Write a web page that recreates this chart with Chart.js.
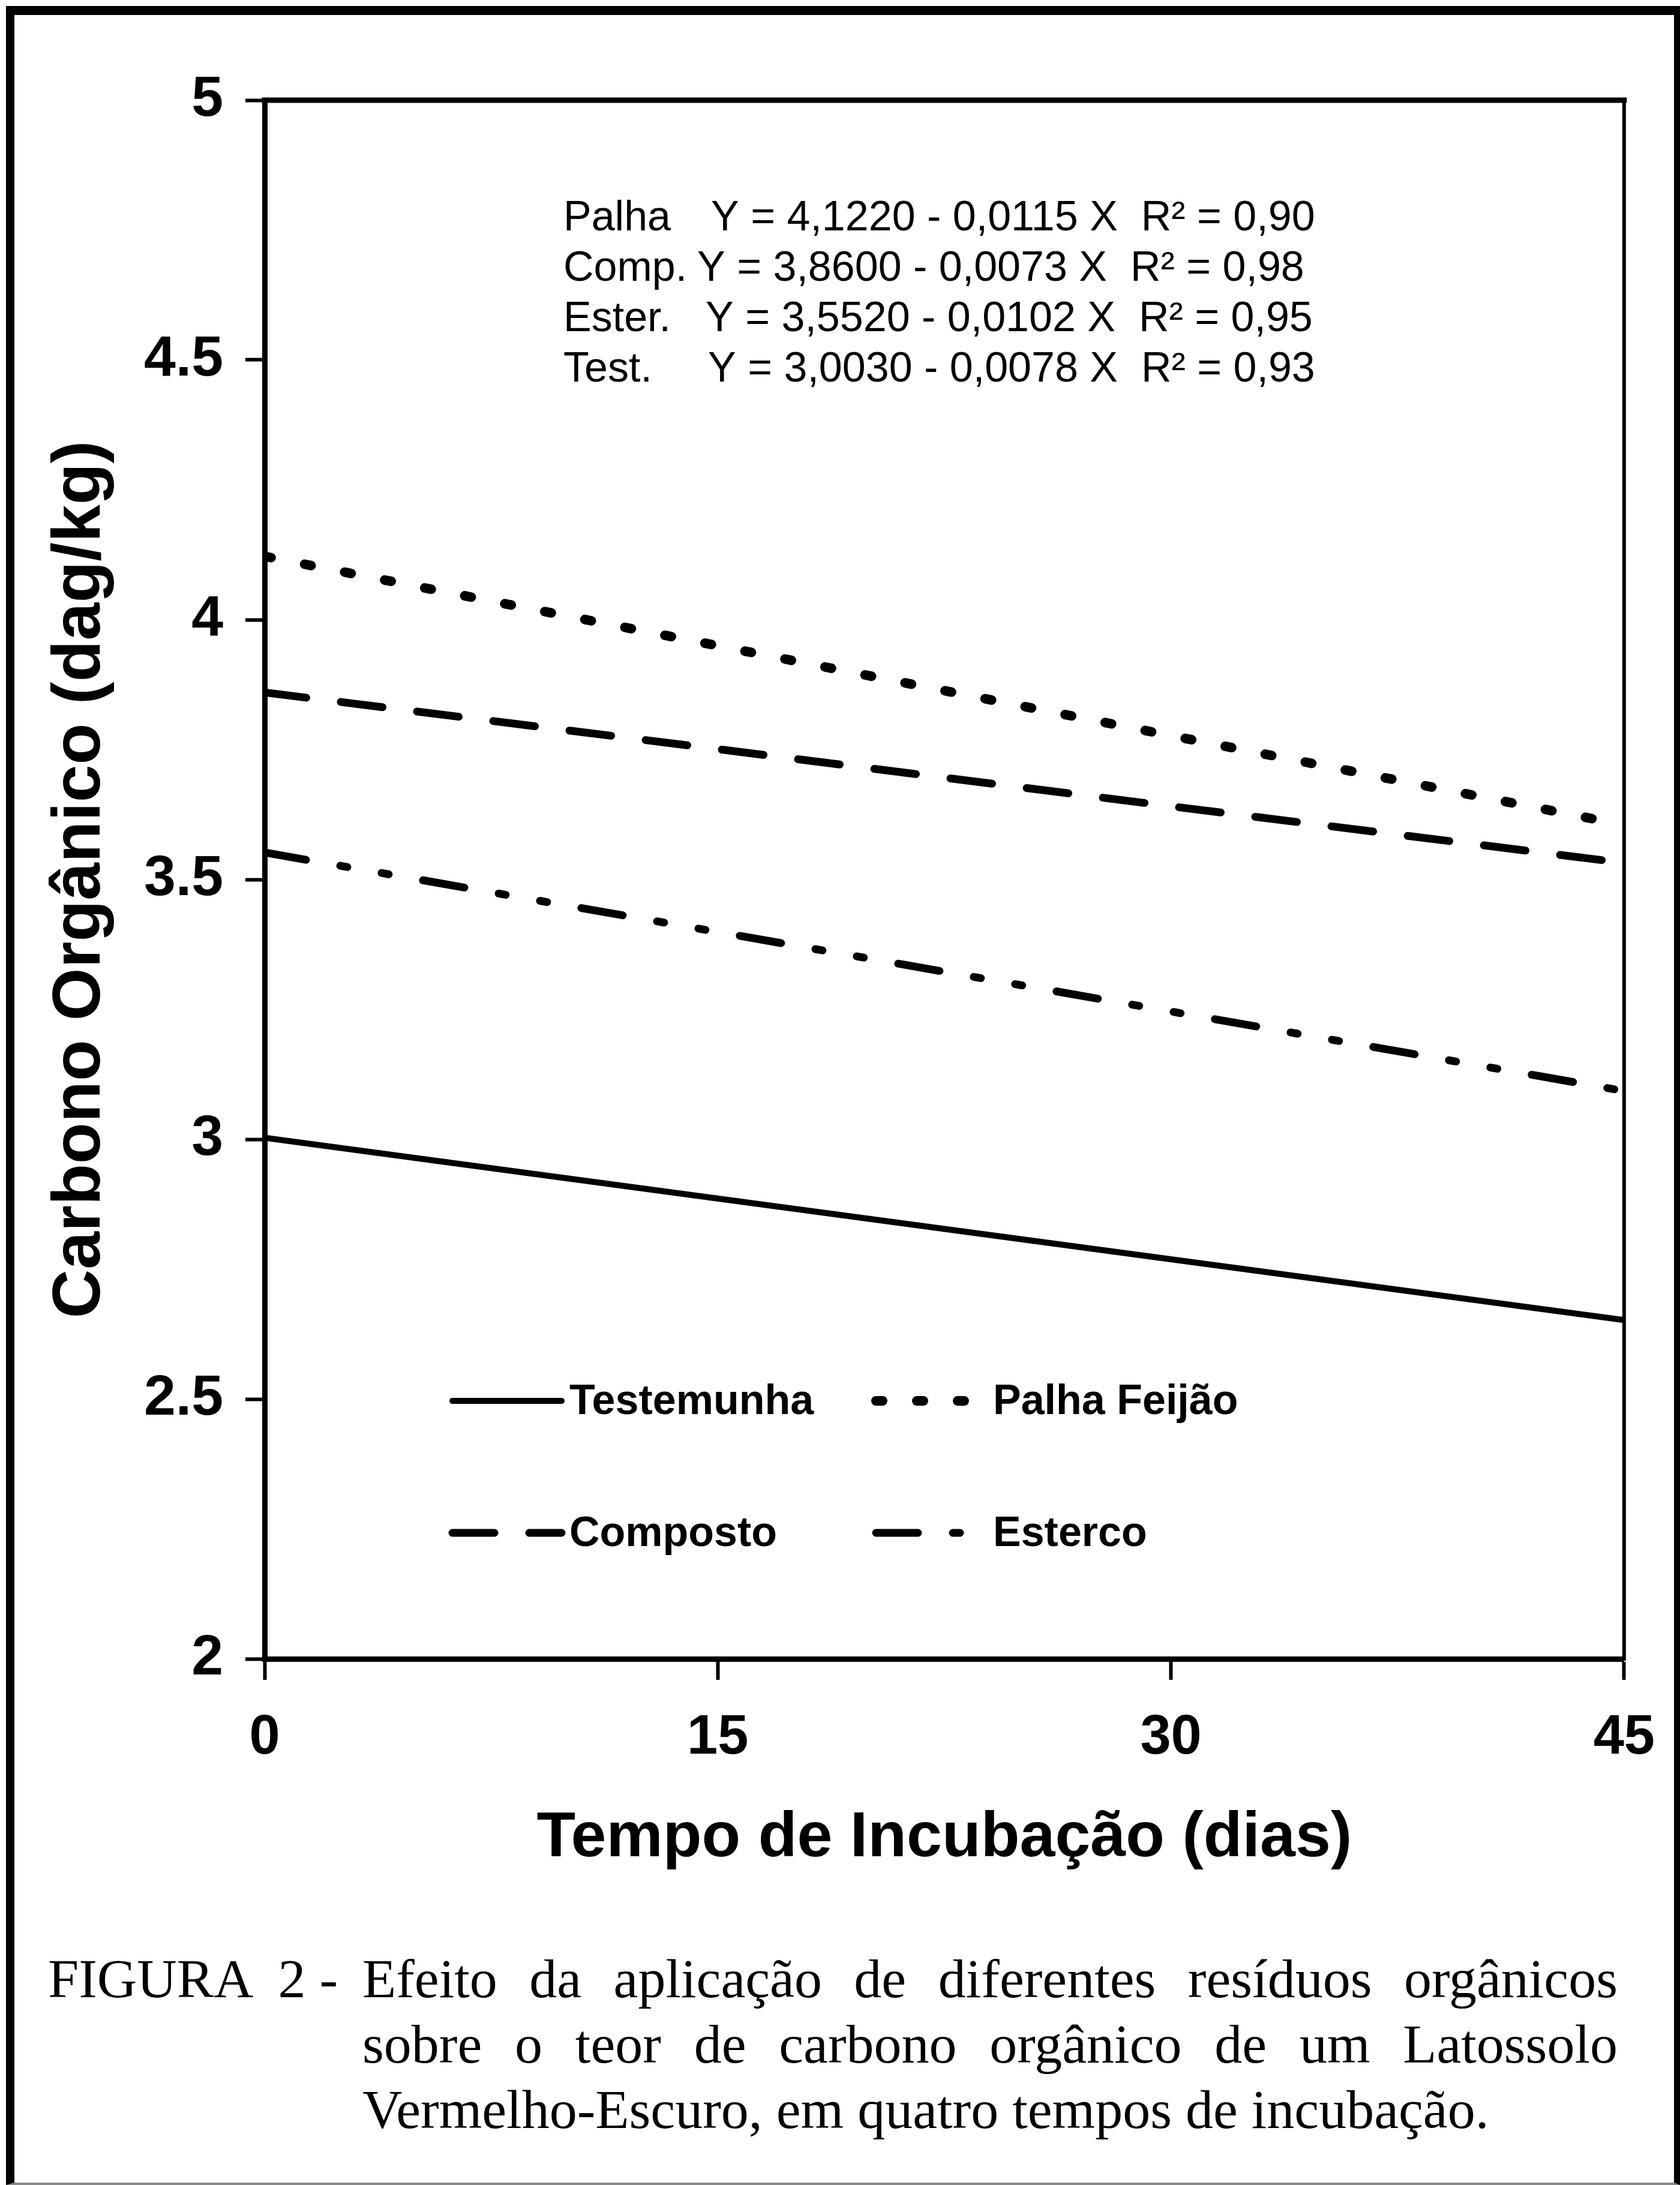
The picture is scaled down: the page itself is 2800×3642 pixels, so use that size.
<!DOCTYPE html>
<html lang="pt">
<head>
<meta charset="utf-8">
<title>Carbono orgânico x tempo de incubação</title>
<script src="https://cdn.jsdelivr.net/npm/chart.js@4.4.1/dist/chart.umd.min.js"></script>
<style>
  html, body { margin: 0; padding: 0; background: #fff; }
  #page { position: relative; width: 2800px; height: 3642px; overflow: hidden; }
  #frame {
    position: absolute; left: 10px; top: 10px; width: 2790px; height: 3632px;
    box-sizing: border-box; border-style: solid;
    border-color: #000 #000 #8a8a8a #000; border-width: 15px 10px 4px 14px;
  }
  #chart { position: absolute; left: 0; top: 0; }
  #caption {
    position: absolute; left: 0; top: 3244px; width: 2800px;
    font-family: 'Liberation Serif', 'Times New Roman', serif;
    font-size: 92px; line-height: 109px; color: #000;
  }
  #caption .label { position: absolute; left: 80px; top: 0; white-space: pre; }
  #caption .text { position: absolute; left: 604px; top: 0; width: 2092px; }
  #caption .j { text-align: justify; text-align-last: justify; }
</style>
</head>
<body>
<div id="page">
  <canvas id="chart" width="2800" height="3200"></canvas>
  <div id="caption">
    <div class="label">FIGURA  2 -</div>
    <div class="text">
      <div class="j">Efeito da aplicação de diferentes resíduos orgânicos</div>
      <div class="j">sobre o teor de carbono orgânico de um Latossolo</div>
      <div>Vermelho-Escuro, em quatro tempos de incubação.</div>
    </div>
  </div>
  <div id="frame"></div>
</div>
<script>
// ── data ────────────────────────────────────────────────────
const days        = [0, 15, 30, 45];
const testemunha  = [3.003, 2.886, 2.769, 2.652];
const palhaFeijao = [4.122, 3.950, 3.777, 3.605];
const composto    = [3.860, 3.751, 3.641, 3.532];
const esterco     = [3.552, 3.399, 3.246, 3.093];

const seriesNames   = ['Testemunha', 'Palha Feijão', 'Composto', 'Esterco'];
const equationNames = ['Palha', 'Comp.', 'Ester.', 'Test.'];
const equations = [
  'Y = 4,1220 - 0,0115 X  R² = 0,90',
  'Y = 3,8600 - 0,0073 X  R² = 0,98',
  'Y = 3,5520 - 0,0102 X  R² = 0,95',
  'Y = 3,0030 - 0,0078 X  R² = 0,93'
];
const xTitle = 'Tempo de Incubação (dias)';
const yTitle = 'Carbono Orgânico (dag/kg)';

// ── styling ─────────────────────────────────────────────────
const SANS = "'Liberation Sans', Arial, Helvetica, sans-serif";
const toPts = ys => days.map((d, i) => ({ x: d, y: ys[i] }));

function series(label, ys, width, dash) {
  return {
    label, data: toPts(ys),
    borderColor: '#000', backgroundColor: '#000',
    borderWidth: width, borderDash: dash, borderCapStyle: 'round',
    pointRadius: 0, tension: 0, fill: false
  };
}

// plot frame, regression equations and the in-plot legend
const overlayPlugin = {
  id: 'overlay',
  afterDraw(chart) {
    const { ctx, chartArea: a } = chart;
    ctx.save();
    ctx.strokeStyle = '#000';
    ctx.lineCap = 'square';
    ctx.lineWidth = 9;
    ctx.beginPath(); ctx.moveTo(a.left, a.top); ctx.lineTo(a.right, a.top); ctx.stroke();
    ctx.lineWidth = 6;
    ctx.beginPath(); ctx.moveTo(a.right, a.top); ctx.lineTo(a.right, a.bottom); ctx.stroke();

    // equations
    const eqOffsets = [744, 721, 735, 739];
    ctx.fillStyle = '#000';
    ctx.textBaseline = 'middle';
    ctx.textAlign = 'left';
    ctx.font = `70px ${SANS}`;
    equationNames.forEach((n, i) => {
      const y = a.top + 198 + i * 84;
      ctx.fillText(n, a.left + 498, y);
      ctx.fillText(equations[i], a.left + eqOffsets[i], y);
    });

    // legend, 2 x 2
    const cols = [307, 1013], rows = [2168, 2388];
    ctx.font = `bold 70px ${SANS}`;
    chart.data.datasets.forEach((ds, i) => {
      const x0 = a.left + cols[i % 2];
      const y = a.top + rows[Math.floor(i / 2)];
      ctx.save();
      ctx.lineWidth = ds.borderWidth;
      ctx.lineCap = 'round';
      ctx.setLineDash(ds.borderDash || []);
      ctx.beginPath(); ctx.moveTo(x0 + 6, y); ctx.lineTo(x0 + 188, y); ctx.stroke();
      ctx.restore();
      ctx.fillText(ds.label, x0 + 201, y + 3);
    });
    ctx.restore();
  }
};

new Chart(document.getElementById('chart'), {
  type: 'line',
  data: {
    datasets: [
      series(seriesNames[0], testemunha, 10, []),
      series(seriesNames[1], palhaFeijao, 16, [11, 57]),
      series(seriesNames[2], composto, 13, [70, 58]),
      series(seriesNames[3], esterco, 13, [70, 58, 12, 58, 12, 58])
    ]
  },
  options: {
    responsive: false,
    animation: false,
    devicePixelRatio: 1,
    layout: { padding: { left: 60, right: 88, top: 167, bottom: 72 } },
    plugins: { legend: { display: false }, tooltip: { enabled: false } },
    scales: {
      x: {
        type: 'linear', min: 0, max: 45,
        afterFit: s => { s.height = 363; },
        ticks: { stepSize: 15, maxRotation: 0, color: '#000', padding: 42,
                 font: { family: SANS, size: 92, weight: 'bold' } },
        grid: { drawOnChartArea: false, drawTicks: true, tickLength: 35, tickWidth: 6, color: '#000' },
        border: { display: true, color: '#000', width: 9 },
        title: { display: true, text: xTitle, color: '#000', padding: { top: 0, bottom: 0 },
                 font: { family: SANS, size: 106, weight: 'bold' } }
      },
      y: {
        type: 'linear', min: 2, max: 5,
        afterFit: s => { s.width = 381; },
        ticks: { stepSize: 0.5, color: '#000', padding: 37, callback: v => String(v),
                 font: { family: SANS, size: 95, weight: 'bold' } },
        grid: { drawOnChartArea: false, drawTicks: true, tickLength: 32, tickWidth: 6, color: '#000' },
        border: { display: true, color: '#000', width: 9 },
        title: { display: true, text: yTitle, color: '#000', padding: { top: 7, bottom: 0 },
                 font: { family: SANS, size: 113, weight: 'bold' } }
      }
    }
  },
  plugins: [overlayPlugin]
});
</script>
</body>
</html>
